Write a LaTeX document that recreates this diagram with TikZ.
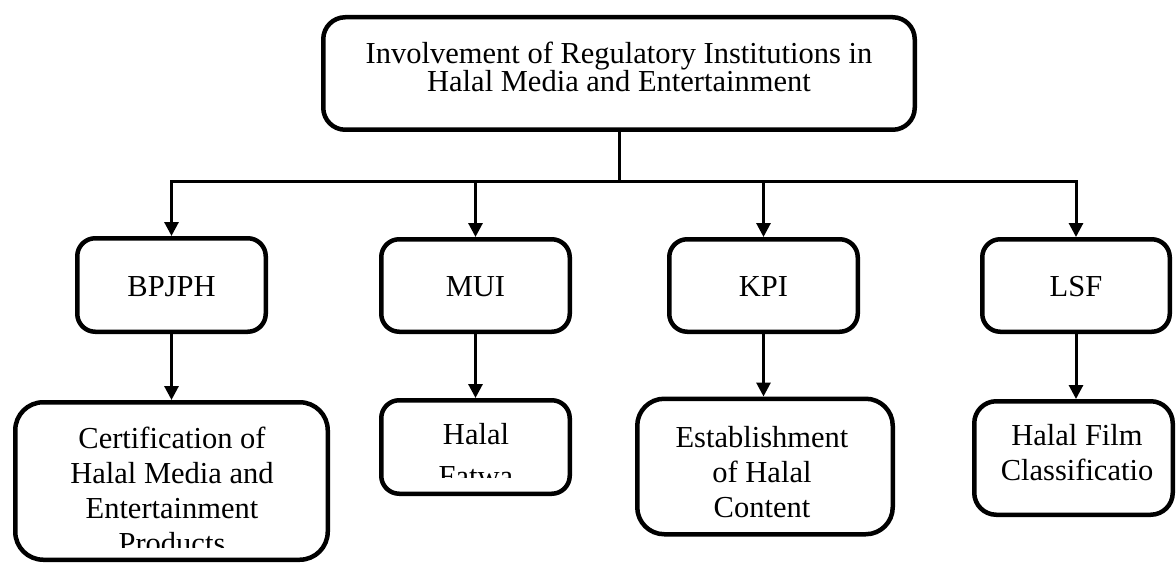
\documentclass[tikz,border=0pt]{standalone}
\usepackage{fontspec}
\setmainfont{Liberation Serif}
\usetikzlibrary{arrows.meta}
\begin{document}
\begin{tikzpicture}[x=1pt,y=-1pt,
  box/.style={draw=black, line width=4.5pt, inner sep=0pt, rectangle},
  txt/.style={inner sep=0pt, anchor=base, align=center, font=\fontsize{30.5}{35}\selectfont},
  toptxt/.style={inner sep=0pt, anchor=base, align=center, font=\fontsize{30.5}{26}\selectfont},
  conn/.style={line width=3pt, draw=black},
  arr/.style={conn, -{Triangle[length=14pt,width=14pt]}}]
\useasboundingbox (0,0) rectangle (1176,567);
% boxes
\node[box, rounded corners=22pt, minimum width=591.5pt, minimum height=112.5pt] (top) at (619,73.5) {};
\node[box, rounded corners=18pt, minimum width=188.5pt, minimum height=93.5pt] (bpjph) at (171.5,285) {};
\node[box, rounded corners=18pt, minimum width=188.5pt, minimum height=92.5pt] (mui) at (475.5,285.5) {};
\node[box, rounded corners=18pt, minimum width=188.5pt, minimum height=92.5pt] (kpi) at (763.5,285.5) {};
\node[box, rounded corners=18pt, minimum width=187.5pt, minimum height=92.5pt] (lsf) at (1076,285.5) {};
\node[box, rounded corners=28pt, minimum width=312.5pt, minimum height=157.5pt] (cert) at (171.5,481) {};
\node[box, rounded corners=18pt, minimum width=188.5pt, minimum height=93.5pt] (fatwa) at (475.5,447) {};
\node[box, rounded corners=27pt, minimum width=255.5pt, minimum height=135.5pt] (est) at (765,466.5) {};
\node[box, rounded corners=22pt, minimum width=198.5pt, minimum height=113.5pt] (film) at (1073.5,458) {};
% texts (anchor base = baseline of the last line)
\node[toptxt] (ttop) at (619,92) {Involvement of Regulatory Institutions in\\Halal Media and Entertainment};
\node[txt] (tbpjph) at (171.5,296) {BPJPH};
\node[txt] (tmui) at (475.5,296) {MUI};
\node[txt] (tkpi) at (763.5,296) {KPI};
\node[txt] (tlsf) at (1076,296) {LSF};
\begin{scope}
  \clip (20,405) rectangle (323,547);
  \node[txt] (tcert) at (172,553) {Certification of\\Halal Media and\\Entertainment\\Products};
\end{scope}
\begin{scope}
  \clip (385,402) rectangle (566,477);
  \node[txt, font=\fontsize{30.5}{42}\selectfont] (tfatwa) at (476,486) {Halal\\Fatwa};
\end{scope}
\node[txt] (test) at (762,517) {Establishment\\of Halal\\Content};
\node[txt] (tfilm) at (1077,480) {Halal Film\\Classificatio};
% connectors
\coordinate (j) at (619,182);
\draw[conn] (top.south) -- (j);
\draw[arr] (j) -| (bpjph.north);
\draw[arr] (j) -| (mui.north);
\draw[arr] (j) -| (kpi.north);
\draw[arr] (j) -| (lsf.north);
\draw[arr] (bpjph.south) -- (cert.north);
\draw[arr] (mui.south) -- (fatwa.north);
\draw[arr] (kpi.south) -- (kpi.south |- est.north);
\draw[arr] (lsf.south) -- (lsf.south |- film.north);
\end{tikzpicture}
\end{document}
